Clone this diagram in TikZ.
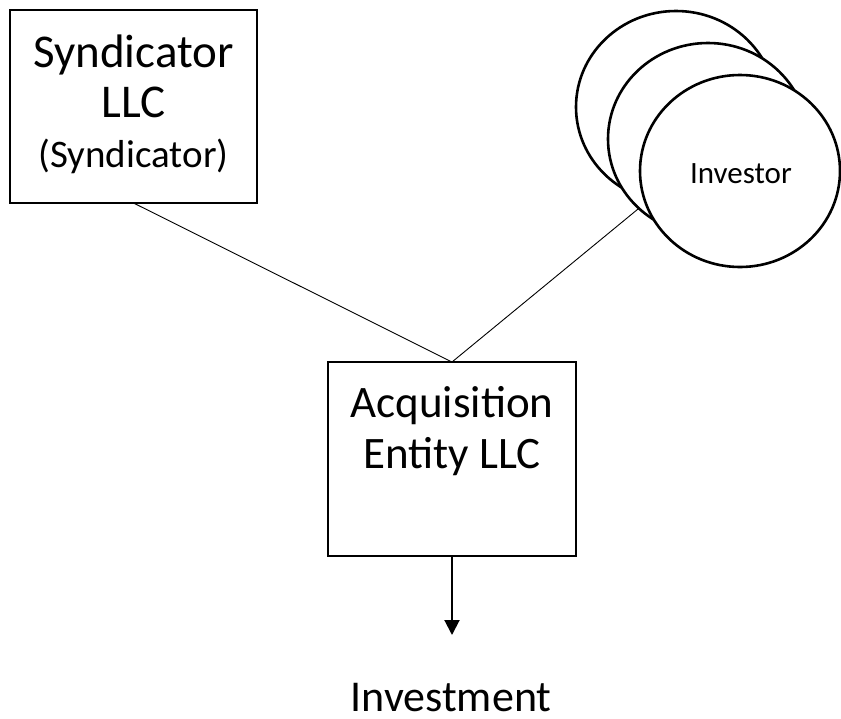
\documentclass[tikz,border=0pt]{standalone}
\usepackage{fontspec}
\setmainfont{Carlito}
\usetikzlibrary{arrows.meta,shapes.geometric}
\begin{document}
\begin{tikzpicture}[x=1pt,y=-1pt,
  box/.style={draw, line width=1.3pt, inner sep=0pt, outer sep=0pt, anchor=north west},
  inv/.style={draw, ellipse, line width=2.6pt, fill=white, inner sep=0pt,
    minimum width=200pt, minimum height=192pt},
  conn/.style={line width=0.9pt},
  lbl/.style={anchor=base, inner sep=0pt}
]
\useasboundingbox (0,0) rectangle (841,718);
% boxes
\node[box, minimum width=247pt, minimum height=193pt] (syn) at (10,10) {};
\node[box, minimum width=248pt, minimum height=194pt] (acq) at (328,362) {};
% box texts
\node[lbl, font=\fontsize{47}{50}\selectfont] (syn1) at (133.5,67) {Syndicator};
\node[lbl, font=\fontsize{47}{50}\selectfont] (syn2) at (133.5,117) {LLC};
\node[lbl, font=\fontsize{39}{44}\selectfont] (syn3) at (133.5,167) {(Syndicator)};
\node[lbl, font=\fontsize{45}{50}\selectfont] (acq1) at (452,417) {Acquisition};
\node[lbl, font=\fontsize{45}{50}\selectfont] (acq2) at (452,468) {Entity LLC};
% investors
\node[inv] (inv1) at (676,107) {};
\node[inv] (inv2) at (708,139) {};
\node[inv] (inv3) at (740,171) {};
\node[lbl, font=\fontsize{31}{36}\selectfont] (invt) at (741,183) {Investor};
% connectors
\draw[conn] (syn.south) -- (acq.north);
\draw[conn] (inv2.225) -- (acq.north);
\coordinate (tip) at (acq.south |- 0,635);
\draw[line width=2pt, -{Triangle[length=15pt,width=15pt]}] (acq.south) -- (tip);
\node[lbl, font=\fontsize{44}{50}\selectfont] (inve) at (451,711) {Investment};
\end{tikzpicture}
\end{document}
